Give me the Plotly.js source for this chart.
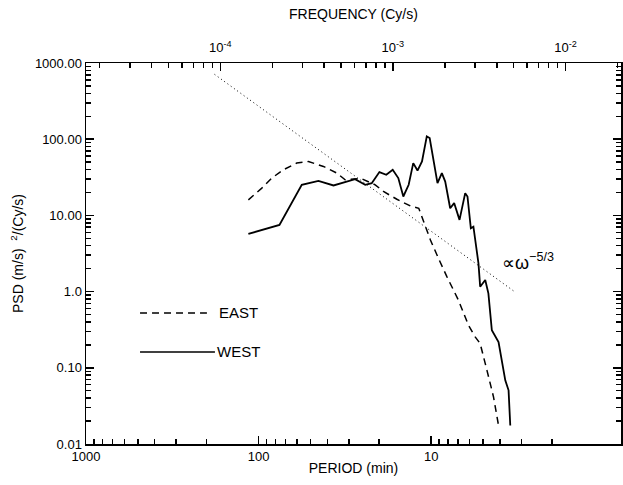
<!DOCTYPE html>
<html>
<head>
<meta charset="utf-8">
<script src="https://cdn.plot.ly/plotly-3.0.1.min.js"></script>
<style>html,body{margin:0;padding:0;background:#fff;}#chart{width:623px;height:485px;}</style>
</head>
<body>
<div id="chart"></div>
<script>
// PERIOD (min) and PSD values
const westPeriod = [114.6, 75.7, 56.2, 45.0, 36.8, 27.6, 24.1, 22.1, 19.95, 18.2, 16.7, 15.5, 14.5, 13.5, 12.7, 12.0, 11.3, 10.6, 10.2, 9.61, 9.19, 8.67, 8.29, 7.76, 7.36, 6.85, 6.35, 6.16, 5.89, 5.69, 5.32, 5.20, 4.86, 4.66, 4.45, 4.07, 3.72, 3.56, 3.48];
const westPSD = [5.71, 7.50, 25.2, 28.4, 24.7, 29.9, 25.2, 26.5, 37.0, 34.1, 39.7, 30.9, 17.7, 25.2, 48.6, 38.8, 51.0, 108.9, 103.7, 43.9, 26.5, 35.9, 27.8, 12.4, 14.5, 8.73, 19.6, 17.7, 6.78, 7.12, 2.35, 1.16, 1.42, 0.947, 0.311, 0.218, 0.0685, 0.0506, 0.0175];
const eastPeriod = [114.6, 95.8, 83.8, 71.8, 60.1, 51.4, 42.1, 35.2, 31.5, 25.5, 21.1, 18.9, 15.8, 13.2, 11.8, 11.3, 10.1, 9.07, 8.11, 6.95, 6.08, 5.56, 5.20, 4.75, 4.35, 4.07];
const eastPSD = [16.0, 22.8, 30.9, 39.7, 48.6, 51.0, 43.9, 35.9, 29.3, 30.5, 25.2, 20.6, 16.3, 13.3, 12.4, 9.64, 4.76, 2.73, 1.57, 0.773, 0.362, 0.254, 0.208, 0.0927, 0.0413, 0.0175];
const slopePeriod = [180, 3.25];
const slopePSD = [710, 0.98];

const periodTickVals = [1000, 100, 10];
const periodTickText = ["1000", "100", "10"];
const psdTickVals = [0.01, 0.1, 1, 10, 100, 1000];
const psdTickText = ["0.01", "0.10", "1.0", "10.00", "100.00", "1000.00"];
const freqTickVals = [1e-4, 1e-3, 1e-2];
const freqTickText = ["10<sup>-4</sup>", "10<sup>-3</sup>", "10<sup>-2</sup>"];

function minorList(lo, hi) {
  const out = [];
  for (let d = lo; d < hi; d++) {
    for (let m = 2; m <= 9; m++) out.push(m * Math.pow(10, d));
  }
  return out;
}
const periodMinor = minorList(0, 3);
const psdMinor = minorList(-2, 3);
const freqMinor = minorList(-5, -1).filter(v => v < 0.021);

const logPmin = -0.1, logPmax = 3;
const fLeft = Math.log10(1 / (60 * Math.pow(10, logPmax)));
const fRight = Math.log10(1 / (60 * Math.pow(10, logPmin)));

const FAM = 'Liberation Sans, Arial, sans-serif';
const font = {family: FAM, color: '#000', size: 13};
const titleFont = {family: FAM, color: '#000', size: 14};

const traces = [
  {x: slopePeriod, y: slopePSD, mode: 'lines', line: {color: '#000', width: 1, dash: '1px,3px'}, hoverinfo: 'skip'},
  {x: eastPeriod, y: eastPSD, mode: 'lines', name: 'EAST', line: {color: '#000', width: 1.5, dash: '7px,5px'}},
  {x: westPeriod, y: westPSD, mode: 'lines', name: 'WEST', line: {color: '#000', width: 1.8}},
  {x: [1e-3], y: [1], xaxis: 'x2', yaxis: 'y', mode: 'markers', marker: {opacity: 0}, hoverinfo: 'skip'},
  {x: [10], y: [1], xaxis: 'x3', yaxis: 'y2', mode: 'markers', marker: {opacity: 0}, hoverinfo: 'skip'},
  {x: [1e-3], y: [1], xaxis: 'x4', yaxis: 'y', mode: 'markers', marker: {opacity: 0}, hoverinfo: 'skip'}
];

const axisCommon = {
  type: 'log', showgrid: false, zeroline: false, showline: true, linecolor: '#000', linewidth: 1.5,
  ticks: 'inside', ticklen: 8, tickwidth: 1.5, tickcolor: '#000', tickfont: font
};
const minorCommon = {
  type: 'log', showgrid: false, zeroline: false, showline: false, showticklabels: false,
  ticks: 'inside', ticklen: 5, tickwidth: 1.5, tickcolor: '#000', tickmode: 'array'
};

const layout = {
  width: 623, height: 485,
  margin: {l: 86, r: 2, t: 63, b: 41},
  paper_bgcolor: '#fff', plot_bgcolor: '#fff',
  showlegend: false,
  font: font,
  xaxis: Object.assign({}, axisCommon, {
    range: [logPmax, logPmin],
    tickmode: 'array', tickvals: periodTickVals, ticktext: periodTickText,
    title: {text: 'PERIOD (min)', font: titleFont, standoff: 0}
  }),
  xaxis3: Object.assign({}, minorCommon, {
    overlaying: 'x', side: 'bottom', anchor: 'y2', range: [logPmax, logPmin], tickvals: periodMinor
  }),
  xaxis2: Object.assign({}, axisCommon, {
    overlaying: 'x', side: 'top', anchor: 'y',
    range: [fLeft, fRight],
    tickmode: 'array', tickvals: freqTickVals, ticktext: freqTickText,
    ticklabelstandoff: 4,
    title: {text: 'FREQUENCY (Cy/s)', font: titleFont, standoff: 16}
  }),
  xaxis4: Object.assign({}, minorCommon, {
    overlaying: 'x', side: 'top', anchor: 'y', range: [fLeft, fRight], tickvals: freqMinor
  }),
  yaxis: Object.assign({}, axisCommon, {
    range: [-2, 3], mirror: 'ticks',
    tickmode: 'array', tickvals: psdTickVals, ticktext: psdTickText,
    title: {text: 'PSD (m/s)  <sup>2</sup>/(Cy/s)', font: titleFont, standoff: 8}
  }),
  yaxis2: Object.assign({}, minorCommon, {
    overlaying: 'y', side: 'left', anchor: 'x', range: [-2, 3], mirror: 'ticks', tickvals: psdMinor
  }),
  shapes: [
    {type: 'line', xref: 'paper', yref: 'paper', x0: 0.101, x1: 0.226, y0: 0.344, y1: 0.344, line: {color: '#000', width: 1.4, dash: '7px,5px'}},
    {type: 'line', xref: 'paper', yref: 'paper', x0: 0.101, x1: 0.241, y0: 0.2415, y1: 0.2415, line: {color: '#000', width: 1.4}}
  ],
  annotations: [
    {xref: 'paper', yref: 'paper', x: 0.245, y: 0.344, xanchor: 'left', yanchor: 'middle', text: 'EAST', showarrow: false, font: {family: FAM, size: 15, color: '#000'}},
    {xref: 'paper', yref: 'paper', x: 0.241, y: 0.2415, xanchor: 'left', yanchor: 'middle', text: 'WEST', showarrow: false, font: {family: FAM, size: 15, color: '#000'}},
    {xref: 'paper', yref: 'paper', x: 0.774, y: 0.478, xanchor: 'left', yanchor: 'middle', text: '\u221D\u03C9<sup>\u22125/3</sup>', showarrow: false, font: {family: FAM, size: 18, color: '#000'}}
  ]
};

Plotly.newPlot('chart', traces, layout, {displayModeBar: false, staticPlot: true});
</script>
</body>
</html>
